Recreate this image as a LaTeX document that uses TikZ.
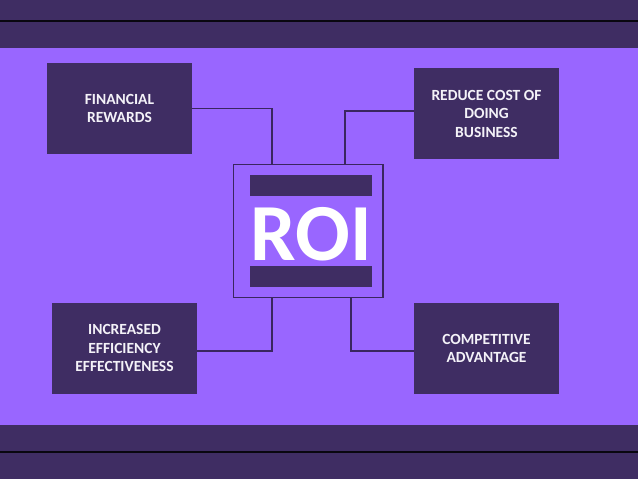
\documentclass[tikz,border=0pt]{standalone}
\usepackage{fontspec}
\setmainfont{Carlito}
\definecolor{band}{HTML}{3F2D63}
\definecolor{bg}{HTML}{9966FF}
\definecolor{boxc}{HTML}{3F2D63}
\definecolor{linec}{HTML}{3A2660}
\definecolor{txt}{HTML}{F4F2F8}
\begin{document}
\begin{tikzpicture}[x=1pt,y=-1pt,
  item/.style={fill=boxc, draw=none, minimum width=145pt, minimum height=91pt, inner sep=0pt,
    text=txt, font=\fontsize{15.5}{18.5}\selectfont\bfseries, align=center},
  conn/.style={draw=linec, line width=1.8pt},
  bar/.style={fill=boxc, draw=none, minimum width=122pt, minimum height=21pt, inner sep=0pt}]
\useasboundingbox (0,0) rectangle (638,479);
\fill[bg] (0,0) rectangle (638,479);
\fill[band] (0,0) rectangle (638,48);
\fill[band] (0,425) rectangle (638,479);
\draw[line width=2pt, color=black!85!band] (0,20.7) -- (638,20.7);
\draw[line width=2pt, color=black!85!band] (0,451.7) -- (638,451.7);
% ROI box
\node[draw=linec, line width=1.5pt, fill=none, minimum width=149.5pt, minimum height=133pt, inner sep=0pt] (roi) at (308.2,230.8) {};
\node[bar] (bartop) at (311.2,185.5) {};
\node[bar] (barbot) at (311.2,276.2) {};
\node[text=white, font=\fontsize{81}{81}\selectfont\bfseries, inner sep=0pt, anchor=base] (roit) at (311,260) {ROI};
% items
\node[item] (fin) at (119.5,108.5) {FINANCIAL\\REWARDS};
\node[item] (red) at (486.5,113.8) {REDUCE COST OF\\DOING\\BUSINESS};
\node[item] (inc) at (124.5,348.3) {INCREASED\\EFFICIENCY\\EFFECTIVENESS};
\node[item] (comp) at (486.5,348.3) {COMPETITIVE\\ADVANTAGE};
% connectors
\draw[conn] (fin.east) -| ([xshift=-36.2pt]roi.north);
\draw[conn] ([yshift=2.8pt]red.west) -| ([xshift=37pt]roi.north);
\draw[conn] ([yshift=-2.4pt]inc.east) -| ([xshift=-36.5pt]roi.south);
\draw[conn] ([yshift=-2.4pt]comp.west) -| ([xshift=42.6pt]roi.south);
\end{tikzpicture}
\end{document}
